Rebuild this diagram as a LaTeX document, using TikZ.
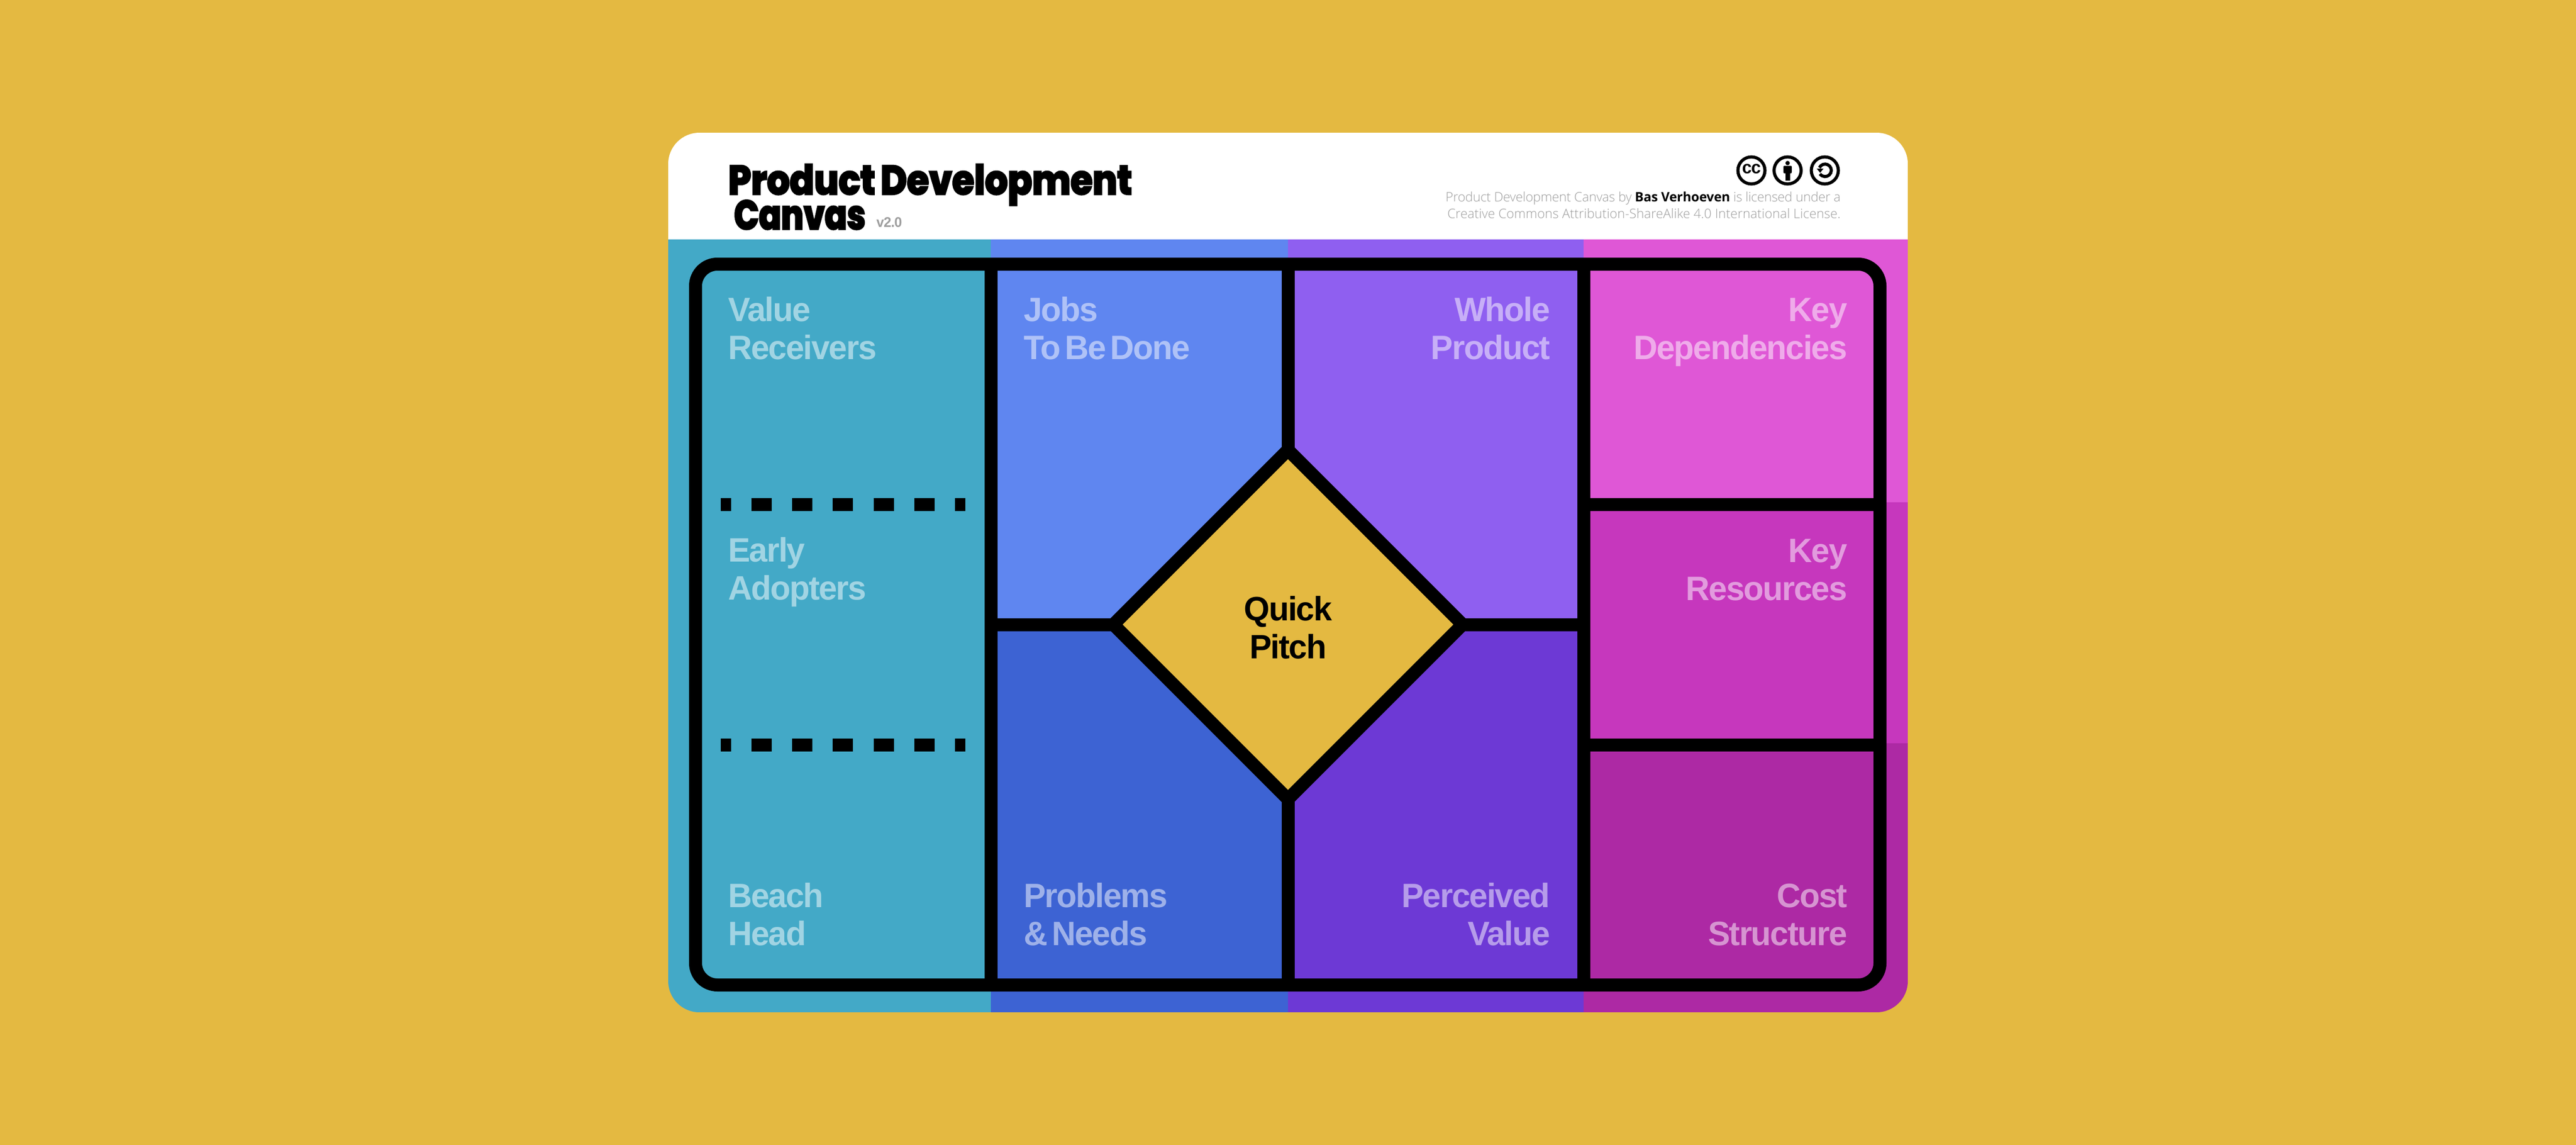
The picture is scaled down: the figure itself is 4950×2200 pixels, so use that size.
\documentclass[tikz,border=0pt]{standalone}
\usepackage{fontspec}
\setmainfont{Liberation Sans}
\newfontfamily\lab[LetterSpace=-3,WordSpace=0.5,FakeStretch=0.98,BoldFont={Liberation Sans Bold}]{Liberation Sans}
\newfontfamily\ttl[LetterSpace=-1,FakeBold=2.5,FakeStretch=0.875,WordSpace=0.75]{Poppins ExtraBold}
\newfontfamily\ttlb[LetterSpace=-1,FakeBold=2.5,FakeStretch=0.8]{Poppins ExtraBold}
\newfontfamily\lic[LetterSpace=-1]{Open Sans Light}
\newfontfamily\lict[LetterSpace=0.3]{Open Sans Light}
\newfontfamily\licb[LetterSpace=-0.5]{Open Sans}
\definecolor{bgy}{HTML}{E4B941}
\definecolor{teal}{HTML}{43A9C7}
\definecolor{blA}{HTML}{5F86F0}
\definecolor{blB}{HTML}{3D63D3}
\definecolor{puA}{HTML}{8F5FF0}
\definecolor{puB}{HTML}{6D39D5}
\definecolor{maA}{HTML}{DF57D6}
\definecolor{maB}{HTML}{C637BD}
\definecolor{maC}{HTML}{AD29A4}
\definecolor{licgray}{HTML}{9E9E9E}
\tikzset{
  x=1pt,y=-1pt,
  heavy/.style={draw=black,line width=25pt,line join=miter},
  divider/.style={draw=black,line width=25pt},
  dashline/.style={draw=black,line width=25pt,dash pattern=on 39.15pt off 39.15pt,dash phase=19.6pt},
  lbl/.style={font=\lab\bfseries\fontsize{65}{73}\selectfont,text=white,text opacity=.5,inner sep=0pt,align=left,anchor=base west},
  lblr/.style={lbl,align=right,anchor=base east},
  cc/.style={draw=black,line width=6pt,fill=white,circle,minimum size=52pt,inner sep=0pt},
}
\begin{document}
\begin{tikzpicture}
\useasboundingbox (0,0) rectangle (4950,2200);
\fill[bgy] (0,0) rectangle (4950,2200);
\begin{scope}
\clip[rounded corners=60pt] (1284,255) rectangle (3666,1945);
\fill[white] (1284,255) rectangle (3666,460);
\fill[teal] (1284,460) rectangle (1904,1945);
\fill[blA] (1904,460) rectangle (2475,1200);
\fill[blB] (1904,1200) rectangle (2475,1945);
\fill[puA] (2475,460) rectangle (3043,1200);
\fill[puB] (2475,1200) rectangle (3043,1945);
\fill[maA] (3043,460) rectangle (3666,965);
\fill[maB] (3043,965) rectangle (3666,1428);
\fill[maC] (3043,1428) rectangle (3666,1945);
\end{scope}
\coordinate (ft) at (1904,507);
\coordinate (fb) at (1904,1893);
\draw[divider] (ft) -- (fb);
\coordinate (gt) at (3043,507);
\coordinate (gb) at (3043,1893);
\draw[divider] (gt) -- (gb);
\coordinate (ht) at (2475,507);
\coordinate (hb) at (2475,1893);
\draw[divider] (ht) -- (hb);
\coordinate (ml) at (1904,1200);
\coordinate (mr) at (3043,1200);
\draw[divider] (ml) -- (mr);
\coordinate (ka) at (3043,969.5);
\coordinate (kb) at (3612,969.5);
\draw[divider] (ka) -- (kb);
\coordinate (la) at (3043,1431.5);
\coordinate (lb) at (3612,1431.5);
\draw[divider] (la) -- (lb);
\draw[heavy,rounded corners=42pt] (1336.5,507.5) rectangle (3612.5,1892.5);
\draw[heavy,fill=bgy] (2475,864.5) -- (2810.5,1200) -- (2475,1535.5) -- (2139.5,1200) -- cycle;
\coordinate (da) at (1385,969.5);
\coordinate (db) at (1855,969.5);
\draw[dashline] (da) -- (db);
\coordinate (ea) at (1385,1431.5);
\coordinate (eb) at (1855,1431.5);
\draw[dashline] (ea) -- (eb);
\node[lbl] (vr) at (1399,690) {Value\\Receivers};
\node[lbl] (ea2) at (1399,1152) {Early\\Adopters};
\node[lbl] (bh) at (1399,1816) {Beach\\Head};
\node[lbl] (jb) at (1967,690) {Jobs\\To Be Done};
\node[lbl] (pn) at (1967,1816) {Problems\\\& Needs};
\node[lblr] (wp) at (2979,690) {Whole\\Product};
\node[lblr] (pv) at (2979,1816) {Perceived\\Value};
\node[lblr] (kd) at (3550,690) {Key\\Dependencies};
\node[lblr] (kr) at (3550,1153) {Key\\Resources};
\node[lblr] (cs) at (3550,1816) {Cost\\Structure};
\node[lbl,text=black,text opacity=1,align=center,anchor=base] (qp) at (2475,1265) {Quick\\Pitch};
\node[font=\ttl\fontsize{80}{80}\selectfont,inner sep=0pt,anchor=base west] (t1) at (1399,374) {Product Development};
\node[font=\ttlb\fontsize{80}{80}\selectfont,inner sep=0pt,anchor=base west] (t2) at (1410,441) {Canvas};
\node[font=\lab\bfseries\fontsize{27}{27}\selectfont,text=licgray,inner sep=0pt,anchor=base west] (v) at (1684,436) {v2.0};
\node[font=\lic\fontsize{25}{32}\selectfont,text=licgray,inner sep=0pt,anchor=base east] (l1) at (3537,387) {Product Development Canvas by {\licb\bfseries\textcolor{black}{Bas Verhoeven}} is licensed under a};
\node[font=\lict\fontsize{25}{32}\selectfont,text=licgray,inner sep=0pt,anchor=base east] (l2) at (3537,419) {Creative Commons Attribution-ShareAlike 4.0 International License.};
\node[cc] (c1) at (3365.5,327.5) {};
\node[cc] (c2) at (3435,327.5) {};
\node[cc] (c3) at (3506.5,327.5) {};
\node[font=\lab\bfseries\fontsize{34}{34}\selectfont,inner sep=0pt] (c1t) at (3365.5,325) {cc};
\fill (3435,313.3) circle (4.2);
\fill[rounded corners=2pt] (3427,318.5) rectangle (3443,333);
\fill (3430.5,330) rectangle (3439.5,347);
\draw[line width=6pt] (3496.1,322.2) arc[start angle=-155,end angle=145,radius=12];
\fill (3491,324) -- (3504,324) -- (3497.5,332) -- cycle;
\end{tikzpicture}
\end{document}
